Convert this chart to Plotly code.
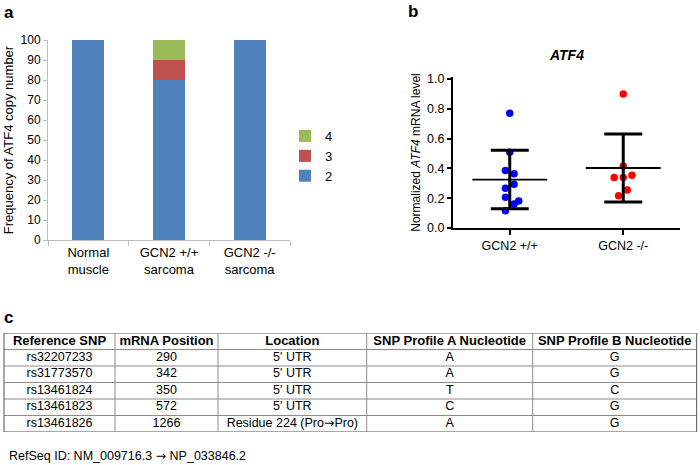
import numpy as np
import plotly.graph_objects as go

# ---------------- data ----------------
# Panel a: copy-number frequency (%)
cat_a = ["Normal<br>muscle", "GCN2 +/+<br>sarcoma", "GCN2 -/-<br>sarcoma"]
copy2 = [100, 80, 100]
copy3 = [0, 10, 0]
copy4 = [0, 10, 0]

# Panel b: normalized ATF4 mRNA level
cat_b = ["GCN2 +/+", "GCN2 -/-"]
wt_vals = [0.77, 0.508, 0.385, 0.364, 0.293, 0.266, 0.206, 0.181, 0.161, 0.116]
wt_jitter = [0.0, 0.0, -0.038, 0.038, 0.038, -0.038, -0.038, 0.079, 0.038, -0.038]
ko_vals = [0.899, 0.416, 0.338, 0.338, 0.354, 0.255, 0.217]
ko_jitter = [0.0, 0.0, -0.08, 0.0, 0.077, 0.035, -0.041]

# Panel c: table
col_headers = ["Reference SNP", "mRNA Position", "Location",
               "SNP Profile A Nucleotide", "SNP Profile B Nucleotide"]
ref_snp = ["rs32207233", "rs31773570", "rs13461824", "rs13461823", "rs13461826"]
mrna_pos = ["290", "342", "350", "572", "1266"]
location = ["5' UTR", "5' UTR", "5' UTR", "5' UTR", "Residue 224 (Pro\u2192Pro)"]
profile_a = ["A", "A", "T", "C", "A"]
profile_b = ["G", "G", "C", "G", "G"]
refseq_note = "RefSeq ID: NM_009716.3 \u2192 NP_033846.2"

FONT = "Liberation Sans, Arial, sans-serif"
W, H = 700, 465


def px(x):
    return x / W


def py(y):
    return 1 - y / H


def arrowfix(s):
    return s.replace("\u2192", '<span style="font-family:DejaVu Sans">\u2192</span>')


fig = go.Figure()

# ---------------- panel a ----------------
for name, vals, col in [("2", copy2, "#4F81BD"), ("3", copy3, "#C0504D"), ("4", copy4, "#9BBB59")]:
    fig.add_trace(go.Bar(x=cat_a, y=vals, name=name, marker=dict(color=col, line=dict(width=0)),
                         xaxis="x", yaxis="y", showlegend=True, hoverinfo="skip"))

# ---------------- panel b ----------------
def group(idx, vals, jit, color):
    xs = [idx + j for j in jit]
    fig.add_trace(go.Scatter(x=xs, y=vals, mode="markers", xaxis="x2", yaxis="y2",
                             marker=dict(color=color, size=7.5), showlegend=False))
    m = float(np.mean(vals))
    sd = float(np.std(vals, ddof=1))
    fig.add_trace(go.Scatter(x=[idx], y=[m], mode="markers", xaxis="x2", yaxis="y2",
                             marker=dict(size=0.1, color="black"), showlegend=False,
                             error_y=dict(type="data", array=[sd], color="black", thickness=3, width=19),
                             error_x=dict(type="data", array=[0.33], color="black", thickness=1.8, width=0)))


group(0, wt_vals, wt_jitter, "#0000FF")
group(1, ko_vals, ko_jitter, "#FF0000")

# ---------------- panel c (table drawn on its own axes) ----------------
columns = [ref_snp, mrna_pos, location, profile_a, profile_b]
col_edges = [4, 115, 218, 366.7, 532.7, 696.7]
col_centers = [(col_edges[i] + col_edges[i + 1]) / 2 for i in range(len(columns))]
n_rows = len(ref_snp) + 1

fig.add_trace(go.Scatter(x=col_centers, y=[0.5] * len(col_headers), mode="text",
                         text=["<b>%s</b>" % h for h in col_headers], textposition="middle center",
                         textfont=dict(family=FONT, size=13, color="black"),
                         xaxis="x3", yaxis="y3", showlegend=False, hoverinfo="skip"))
for j, colvals in enumerate(columns):
    fig.add_trace(go.Scatter(x=[col_centers[j]] * len(colvals),
                             y=[i + 1.5 for i in range(len(colvals))],
                             mode="text", text=[arrowfix(v) for v in colvals], textposition="middle center",
                             textfont=dict(family=FONT, size=12.5, color="black"),
                             xaxis="x3", yaxis="y3", showlegend=False, hoverinfo="skip"))

shapes = []
for r in range(n_rows + 1):
    outer = r in (0, n_rows)
    shapes.append(dict(type="line", xref="x3", yref="y3", x0=col_edges[0], x1=col_edges[-1], y0=r, y1=r,
                       line=dict(color="#505050" if outer else "#8c8c8c", width=1)))
for k, e in enumerate(col_edges):
    outer = k in (0, len(col_edges) - 1)
    shapes.append(dict(type="line", xref="x3", yref="y3", x0=e, x1=e, y0=0, y1=n_rows,
                       line=dict(color="#505050" if outer else "#8c8c8c", width=1)))

axis_gray = "#BFBFBF"
fig.update_layout(
    width=W, height=H,
    margin=dict(l=0, r=0, t=0, b=0, autoexpand=False),
    paper_bgcolor="white", plot_bgcolor="rgba(0,0,0,0)",
    font=dict(family=FONT, color="black"),
    barmode="stack", bargap=0.6,
    xaxis=dict(domain=[px(48), px(290)], anchor="y", type="category", automargin=False,
               showline=True, linecolor=axis_gray, linewidth=1,
               ticks="outside", tickson="boundaries", ticklen=5, tickcolor=axis_gray,
               tickfont=dict(size=13), showgrid=False, zeroline=False, fixedrange=True),
    yaxis=dict(domain=[py(240), py(40)], anchor="x", range=[0, 100], dtick=10, automargin=False,
               showline=True, linecolor=axis_gray, linewidth=1,
               ticks="outside", ticklen=4, tickcolor=axis_gray,
               tickfont=dict(size=12), showgrid=False, zeroline=False, fixedrange=True,
               title=dict(text="Frequency of ATF4 copy number", font=dict(size=13), standoff=4)),
    xaxis2=dict(domain=[px(453), px(680)], anchor="y2", range=[-0.5, 1.5], automargin=False,
                tickvals=[0, 1], ticktext=cat_b,
                showline=True, linecolor="black", linewidth=2,
                ticks="outside", ticklen=5, tickwidth=2, tickcolor="black",
                tickfont=dict(size=12.5), showgrid=False, zeroline=False, fixedrange=True),
    yaxis2=dict(domain=[py(228), py(77)], anchor="x2", range=[0, 1.013], automargin=False,
                tickvals=[0, 0.2, 0.4, 0.6, 0.8, 1.0], tickformat=".1f",
                showline=True, linecolor="black", linewidth=2,
                ticks="outside", ticklen=4, tickwidth=2, tickcolor="black",
                tickfont=dict(size=12.5), showgrid=False, zeroline=False, fixedrange=True,
                title=dict(text="Normalized <i>ATF4</i> mRNA level", font=dict(size=12), standoff=4)),
    xaxis3=dict(domain=[0, 1], anchor="y3", range=[0, W], visible=False, fixedrange=True),
    yaxis3=dict(domain=[py(432), py(333)], anchor="x3", range=[n_rows, 0], visible=False, fixedrange=True),
    legend=dict(x=px(285), y=py(121), xanchor="left", yanchor="top",
                traceorder="reversed", font=dict(size=13), bgcolor="rgba(0,0,0,0)",
                itemwidth=30, tracegroupgap=0),
    showlegend=True,
    shapes=shapes,
)

annotations = [
    dict(text="<b>a</b>", x=px(2), y=py(1), xanchor="left", yanchor="top", font=dict(size=17)),
    dict(text="<b>b</b>", x=px(406), y=py(0), xanchor="left", yanchor="top", font=dict(size=17)),
    dict(text="<b>c</b>", x=px(2), y=py(306), xanchor="left", yanchor="top", font=dict(size=17)),
    dict(text="<b><i>ATF4</i></b>", x=px(566), y=py(55), xanchor="center", yanchor="middle", font=dict(size=14)),
    dict(text=arrowfix(refseq_note), x=px(7), y=py(455), xanchor="left", yanchor="middle", font=dict(size=12.5)),
]
for a in annotations:
    a.update(xref="paper", yref="paper", showarrow=False)
fig.update_layout(annotations=annotations)

fig.write_html("out.html", config={"displayModeBar": False},
               post_script="document.body.style.margin='0';document.body.style.overflow='hidden';")
